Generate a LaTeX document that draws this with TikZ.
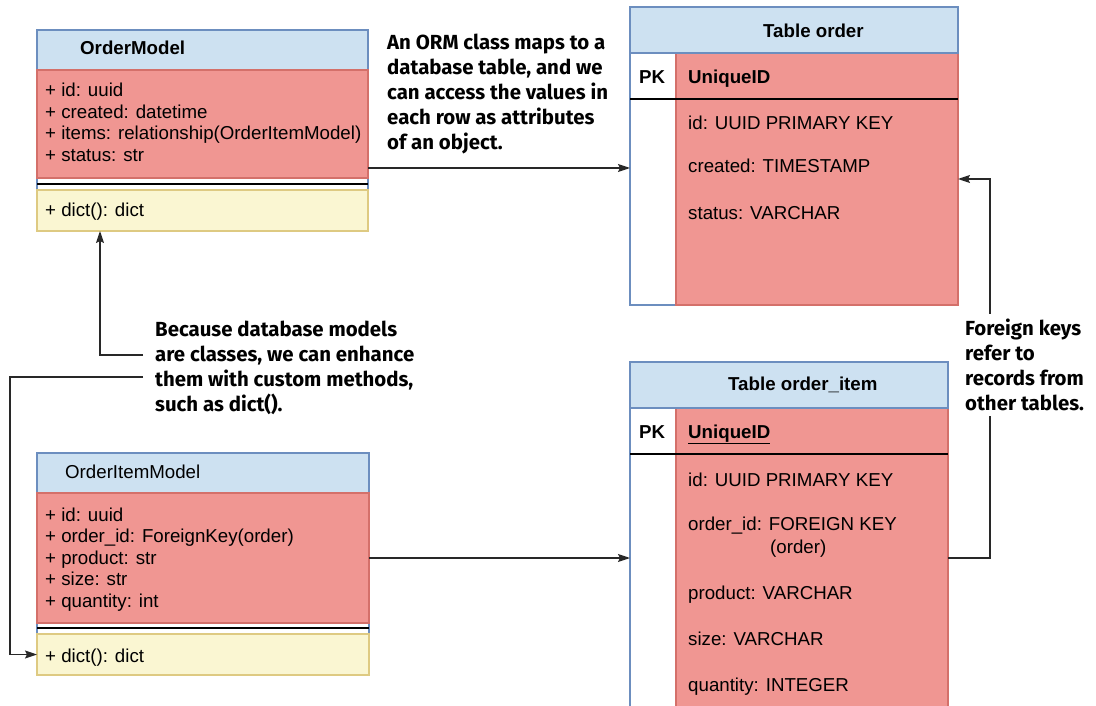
\documentclass[tikz,border=0pt]{standalone}
\usepackage{fontspec}
\setmainfont{Liberation Sans}
\newfontfamily\notefont{Fira Sans}
\usetikzlibrary{arrows.meta}

\definecolor{hdrblue}{RGB}{205,225,241}
\definecolor{hdrline}{RGB}{108,142,191}
\definecolor{attrred}{RGB}{240,150,146}
\definecolor{redline}{RGB}{212,112,106}
\definecolor{methyellow}{RGB}{250,246,210}
\definecolor{yelline}{RGB}{222,202,130}
\definecolor{linegrey}{RGB}{40,40,40}

\tikzset{
  classbox/.style={anchor=north west, inner sep=0pt, outer sep=0pt, line width=1.3pt},
  head/.style={classbox, draw=hdrline, fill=hdrblue},
  attr/.style={classbox, draw=redline, fill=attrred},
  meth/.style={classbox, draw=yelline, fill=methyellow},
  tblframe/.style={classbox, draw=hdrline, fill=white},
  divider/.style={draw=black, line width=1.3pt},
  txt/.style={anchor=base west, inner sep=0pt, font=\fontsize{18.7}{22}\selectfont},
  bold/.style={anchor=base west, inner sep=0pt, font=\fontsize{18.7}{22}\selectfont\bfseries},
  note/.style={anchor=north west, inner sep=0pt, align=left, font=\notefont\bfseries\fontsize{20.4}{25}\selectfont},
  link/.style={draw=linegrey, line width=1.3pt, -{Stealth[length=12pt,width=8pt,inset=2pt]}},
}

\begin{document}
\begin{tikzpicture}[x=1pt,y=-1pt]
\useasboundingbox (0,0) rectangle (1096,706);
\clip (0,0) rectangle (1096,706);

% OrderModel class
\node[tblframe, minimum width=331pt, minimum height=201pt] (om) at (37,30) {};
\node[head, minimum width=331pt, minimum height=40pt] (om-head) at (37,30) {};
\node[attr, minimum width=331pt, minimum height=108pt] (om-attrs) at (37,70) {};
\node[meth, minimum width=331pt, minimum height=41pt] (om-meths) at (37,190) {};
\draw[divider] ([yshift=-6pt]om-attrs.south west) -- ([yshift=-6pt]om-attrs.south east);
\node[bold] (om-title) at (80,55) {OrderModel};
\node[txt] (om-f1) at (45,97) {+ id: uuid};
\node[txt] (om-f2) at (45,119) {+ created: datetime};
\node[txt] (om-f3) at (45,140) {+ items: relationship(OrderItemModel)};
\node[txt] (om-f4) at (45,162) {+ status: str};
\node[txt] (om-m1) at (45,217) {+ dict(): dict};

% OrderItemModel class
\node[tblframe, minimum width=332pt, minimum height=222pt] (oim) at (37,453) {};
\node[head, minimum width=332pt, minimum height=40pt] (oim-head) at (37,453) {};
\node[attr, minimum width=332pt, minimum height=130pt] (oim-attrs) at (37,493) {};
\node[meth, minimum width=332pt, minimum height=41pt] (oim-meths) at (37,634) {};
\draw[divider] ([yshift=-5pt]oim-attrs.south west) -- ([yshift=-5pt]oim-attrs.south east);
\node[txt] (oim-title) at (65,478) {OrderItemModel};
\node[txt] (oim-f1) at (45,521) {+ id: uuid};
\node[txt] (oim-f2) at (45,542) {+ order\_id: ForeignKey(order)};
\node[txt] (oim-f3) at (45,564) {+ product: str};
\node[txt] (oim-f4) at (45,585) {+ size: str};
\node[txt] (oim-f5) at (45,607) {+ quantity: int};
\node[txt] (oim-m1) at (45,662) {+ dict(): dict};

% Table order
\node[tblframe, minimum width=328pt, minimum height=298pt] (to) at (630,7) {};
\node[attr, minimum width=282pt, minimum height=252pt] (to-body) at (676,53) {};
\node[head, minimum width=328pt, minimum height=46pt] (to-head) at (630,7) {};
\draw[divider] ([yshift=-46pt]to-head.south west) -- ([yshift=-46pt]to-head.south east);
\node[bold] (to-title) at (763,38) {Table order};
\node[bold] (to-pk) at (639,84) {PK};
\node[bold] (to-key) at (688,84) {UniqueID};
\node[txt] (to-f1) at (688,130) {id: UUID PRIMARY KEY};
\node[txt] (to-f2) at (688,173) {created: TIMESTAMP};
\node[txt] (to-f3) at (688,219) {status: VARCHAR};

% Table order_item
\node[tblframe, minimum width=318pt, minimum height=370pt] (oi) at (630,362) {};
\node[attr, minimum width=272pt, minimum height=324pt] (oi-body) at (676,408) {};
\node[head, minimum width=318pt, minimum height=46pt] (oi-head) at (630,362) {};
\draw[divider] ([yshift=-46pt]oi-head.south west) -- ([yshift=-46pt]oi-head.south east);
\node[bold] (oi-title) at (728,390) {Table order\_item};
\node[bold] (oi-pk) at (639,438) {PK};
\node[bold] (oi-key) at (688,438) {\underline{UniqueID}};
\node[txt] (oi-f1) at (688,486) {id: UUID PRIMARY KEY};
\node[txt] (oi-f2) at (688,530) {order\_id: FOREIGN KEY};
\node[txt] (oi-f2b) at (770,553) {(order)};
\node[txt] (oi-f3) at (688,599) {product: VARCHAR};
\node[txt] (oi-f4) at (688,645) {size: VARCHAR};
\node[txt] (oi-f5) at (688,691) {quantity: INTEGER};

% connectors
\coordinate (orm-start) at ([yshift=-44pt]om-attrs.east);
\draw[link] (orm-start) -- (orm-start -| to.west);
\draw[link] (oim-attrs.east) -- (oim-attrs.east -| oi.west);
\coordinate (fk-end) at ([yshift=-23pt]to.east);
\draw[link] (oi.east |- oim-attrs.east) -- ++(42,0) |- (fk-end);
\coordinate (dm-a) at (143,355);
\coordinate (dm-b) at (143,377);
\draw[link] (dm-a) -| ([xshift=63pt]om-meths.south west);
\draw[link] (dm-b) -- ++(-133,0) |- (oim-meths.west);

% notes
\node[note] (orm-note) at (387,34) {An ORM class maps to a\\database table, and we\\can access the values in\\each row as attributes\\of an object.};
\node[note] (dm-note) at (155,321) {Because database models\\are classes, we can enhance\\them with custom methods,\\such as dict().};
\node[note, fill=white, inner ysep=5pt] (fk-note) at (965,314) {Foreign keys\\refer to\\records from\\other tables.};
\end{tikzpicture}
\end{document}
